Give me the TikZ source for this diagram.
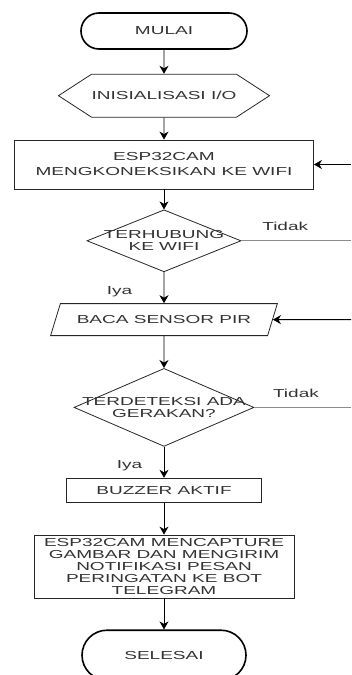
\documentclass[tikz,border=0pt]{standalone}
\usepackage{fontspec}
\setmainfont[FakeStretch=1.64]{Liberation Sans}
\usetikzlibrary{positioning,shapes.geometric,shapes.symbols,arrows.meta}

\begin{document}
\begin{tikzpicture}[x=1pt,y=1pt,
                    font=\fontsize{11.6}{12}\selectfont,text=black!80,
                    >={Stealth[length=8pt,width=9pt,inset=2.5pt]},
                    terminal/.style={draw=black,line width=1.6pt,
                                     minimum width=166pt,inner sep=0pt},
                    prep/.style={draw=black!85,line width=0.8pt,signal,
                                 signal to=west and east,signal pointer angle=66,
                                 minimum width=196pt,minimum height=43pt,inner sep=0pt},
                    process/.style={draw=black!85,line width=0.8pt,
                                    align=center,inner sep=0pt},
                    decision/.style={draw=black!85,line width=0.8pt,diamond,
                                     align=center,inner sep=0pt},
                    io/.style={draw=black!85,line width=0.8pt,trapezium,
                               trapezium left angle=45,trapezium right angle=135,
                               trapezium stretches=true,
                               minimum width=227pt,minimum height=32pt,inner sep=0pt},
                    flow/.style={->,line width=0.9pt},
                    back/.style={draw=black!45,line width=0.9pt}]
  \useasboundingbox (0,0) rectangle (351,-675);
  \node[terminal,rounded corners=18pt,minimum height=36pt] (mulai) at (164,-31) {MULAI};
  \node[prep,below=24pt of mulai] (init) {INISIALISASI I/O};
  \node[process,below=22pt of init,minimum width=299pt,minimum height=49pt,
        font=\fontsize{11.6}{15}\selectfont] (wifi)
       {ESP32CAM\\MENGKONEKSIKAN KE WIFI};
  \node[decision,below=20pt of wifi,minimum width=154pt,minimum height=62pt] (cek)
       {\makebox[0pt]{TERHUBUNG}\\\makebox[0pt]{KE WIFI}};
  \node[io,below=31pt of cek] (baca) {BACA SENSOR PIR};
  \node[decision,below=32pt of baca,minimum width=180pt,minimum height=78pt] (gerak)
       {\makebox[0pt]{TERDETEKSI ADA}\\\makebox[0pt]{GERAKAN?}};
  \node[process,below=31pt of gerak,minimum width=195pt,minimum height=24pt] (buzzer)
       {BUZZER AKTIF};
  \node[process,below=32pt of buzzer,minimum width=260pt,minimum height=63pt] (kirim)
       {ESP32CAM MENCAPTURE\\GAMBAR DAN MENGIRIM\\NOTIFIKASI PESAN\\
        PERINGATAN KE BOT\\TELEGRAM};
  \node[terminal,rounded corners=25pt,minimum height=50pt,minimum width=164pt,
        below=31pt of kirim] (selesai) {SELESAI};

  % the loops leave the picture on the right, only their ends show
  \coordinate (loopA) at (351,0 |- cek);
  \coordinate (loopB) at (351,0 |- wifi);
  \coordinate (loopC) at (351,0 |- gerak);
  \coordinate (loopD) at (351,0 |- baca);

  \draw[flow] (mulai) -- (init);
  \draw[flow] (init) -- (wifi);
  \draw[flow] (wifi) -- (cek);
  \draw[flow] (cek) -- node[left=28pt,pos=0.62] {Iya} (baca);
  \draw[flow] (baca) -- (gerak);
  \draw[flow] (gerak) -- node[left=18pt,pos=0.62] {Iya} (buzzer);
  \draw[flow] (buzzer) -- (kirim);
  \draw[flow] (kirim) -- (selesai);
  \draw[back] (cek.east) -- node[above=6pt,pos=0.4] {Tidak} (loopA);
  \draw[back] (gerak.east) -- node[above=6pt,pos=0.43] {Tidak} (loopC);
  \draw[flow,line width=0.8pt] (loopB) -- (wifi.east);
  \draw[flow,line width=0.8pt] (loopD) -- (baca);
\end{tikzpicture}
\end{document}
